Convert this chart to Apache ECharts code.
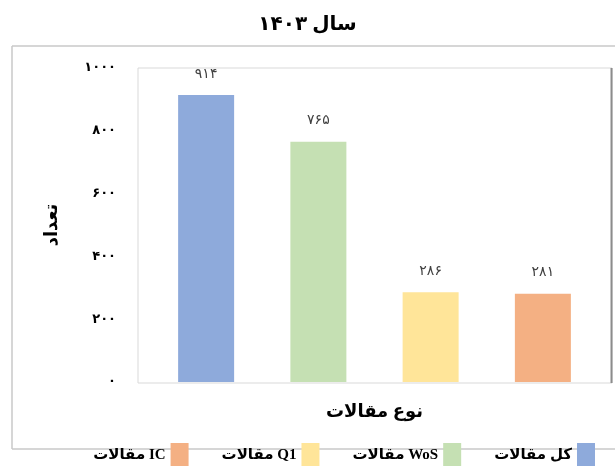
<!DOCTYPE html>
<html><head><meta charset="utf-8">
<script src="https://cdn.jsdelivr.net/npm/echarts@6/dist/echarts.min.js"></script>
<style>html,body{margin:0;padding:0;background:#fff}#c{width:615px;height:466px}</style>
</head><body><div id="c"></div>
<script>
const titleText = 'سال ۱۴۰۳';
const categories = ['کل مقالات', 'مقالات WoS', 'مقالات Q1', 'مقالات IC'];
const values = [914, 765, 286, 281];
const colors = ['#8eaadb', '#c5e0b3', '#ffe599', '#f4b083'];
const yTicks = [0, 200, 400, 600, 800, 1000];
const yName = 'تعداد';
const xName = 'نوع مقالات';

const fa = v => String(v).replace(/\d/g, d => '۰۱۲۳۴۵۶۷۸۹'[d]);
const FONT = "'Liberation Serif', 'DejaVu Sans', serif";

const series = categories.map((c, i) => ({
  name: c,
  type: 'bar',
  stack: 'all',
  barWidth: 56,
  itemStyle: { color: colors[i] },
  label: {
    show: true, position: 'top', distance: 14,
    color: '#404040', fontSize: 14, fontFamily: FONT,
    formatter: p => fa(p.value)
  },
  data: categories.map((_, j) => j === i ? values[i] : '-')
}));

const chart = echarts.init(document.getElementById('c'));
chart.setOption({
  animation: false,
  title: {
    text: titleText, left: 'center', top: 10,
    textStyle: { fontSize: 20, fontWeight: 'bold', color: '#000', fontFamily: FONT }
  },
  grid: { left: 150, right: 16, top: 68, bottom: 84 },
  xAxis: {
    type: 'category', data: categories,
    axisLine: { show: false }, axisTick: { show: false }, axisLabel: { show: false },
    name: xName, nameLocation: 'middle', nameGap: 21,
    nameTextStyle: { fontSize: 18, fontWeight: 'bold', color: '#000', fontFamily: FONT }
  },
  yAxis: {
    type: 'value', min: yTicks[0], max: yTicks[yTicks.length - 1], interval: 200,
    splitLine: { show: false }, axisLine: { show: false }, axisTick: { show: false },
    axisLabel: { margin: 34, fontSize: 13, fontWeight: 'bold', color: '#000', fontFamily: FONT, formatter: v => fa(v) },
    name: yName, nameLocation: 'middle', nameGap: 89, nameRotate: 90,
    nameTextStyle: { fontSize: 18, fontWeight: 'bold', color: '#000', fontFamily: FONT }
  },
  legend: {
    data: categories.slice().reverse(),
    bottom: -6, right: 15, align: 'right',
    itemWidth: 18, itemHeight: 24, itemGap: 33,
    icon: 'rect',
    textStyle: { fontSize: 15, fontWeight: 'bold', color: '#000', fontFamily: FONT }
  },
  graphic: [
    { type: 'line', shape: { x1: 12, y1: 46, x2: 615, y2: 46 }, style: { stroke: '#c8c8c8', lineWidth: 1.5 }, z: -1 },
    { type: 'line', shape: { x1: 12, y1: 46, x2: 12, y2: 449 }, style: { stroke: '#c8c8c8', lineWidth: 1.5 }, z: -1 },
    { type: 'line', shape: { x1: 12, y1: 449, x2: 615, y2: 449 }, style: { stroke: '#c8c8c8', lineWidth: 1.5 }, z: -1 },
    { type: 'rect', shape: { x: 138, y: 68, width: 474, height: 315 }, style: { fill: 'none', stroke: '#d9d9d9', lineWidth: 1 }, z: -1 },
    { type: 'line', shape: { x1: 611.5, y1: 68, x2: 611.5, y2: 383 }, style: { stroke: '#8c8c8c', lineWidth: 2 }, z: -1 }
  ],
  series: series
});
</script></body></html>
